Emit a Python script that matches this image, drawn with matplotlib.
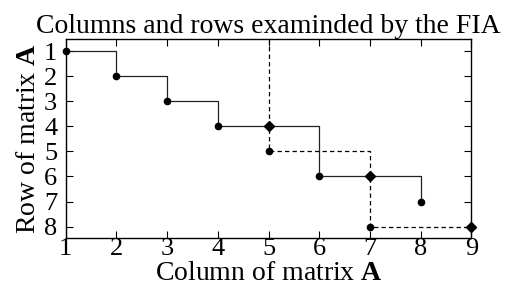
import matplotlib
matplotlib.use("Agg")
import matplotlib.pyplot as plt

plt.rcParams['font.family'] = ['Liberation Serif', 'DejaVu Serif']
plt.rcParams['mathtext.fontset'] = 'custom'
plt.rcParams['mathtext.rm'] = 'Liberation Serif'
plt.rcParams['mathtext.bf'] = 'Liberation Serif:bold'

# solid path (column, row)
solid_cols = [1, 2, 2, 3, 3, 4, 4, 6, 6, 8, 8]
solid_rows = [1, 1, 2, 2, 3, 3, 4, 4, 6, 6, 7]
solid_dot_cols = [1, 2, 3, 4, 6, 8]
solid_dot_rows = [1, 2, 3, 4, 6, 7]

# dashed path
dash_cols = [5, 5, 7, 7, 9]
dash_rows = [0.5, 5, 5, 8, 8]
dash_dot_cols = [5, 7]
dash_dot_rows = [5, 8]

# diamonds
diam_cols = [5, 7, 9]
diam_rows = [4, 6, 8]

fig = plt.figure(figsize=(5.1, 2.9), dpi=100)
ax = fig.add_axes([0.1285, 0.18, 0.796, 0.686])

ax.plot(solid_cols, solid_rows, color='#222222', lw=0.9)
ax.plot(dash_cols, dash_rows, color='black', lw=0.9, ls=(0, (3.5, 2.5)))
ax.plot(solid_dot_cols, solid_dot_rows, 'o', color='black', ms=4.5, clip_on=False)
ax.plot(dash_dot_cols, dash_dot_rows, 'o', color='black', ms=4.5, clip_on=False)
ax.plot(diam_cols, diam_rows, 'D', color='black', ms=5.5, clip_on=False)

ax.set_xlim(1, 9)
ax.set_ylim(8.45, 0.5)
ax.set_xticks(range(1, 10))
ax.set_yticks(range(1, 9))
ax.tick_params(direction='in', top=True, right=True, labelsize=19, length=5)
ax.tick_params(axis='x', pad=0)
ax.tick_params(axis='y', pad=6)
for s in ax.spines.values():
    s.set_linewidth(1.0)

ax.set_title('Columns and rows examinded by the FIA', fontsize=20, pad=4)
ax.set_xlabel(r'Column of matrix $\mathbf{A}$', fontsize=20, labelpad=1)
ax.set_ylabel(r'Row of matrix $\mathbf{A}$', fontsize=20, labelpad=2)

fig.savefig('out.png', dpi=100)
